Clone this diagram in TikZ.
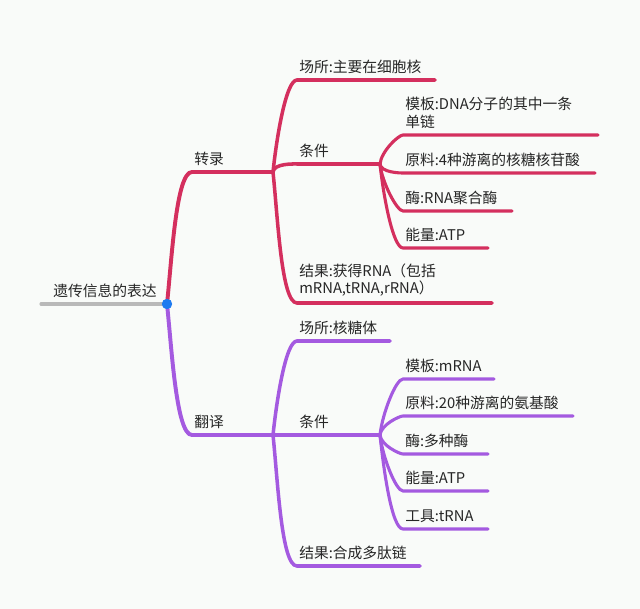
\documentclass[tikz,border=0pt]{standalone}
\usepackage{fontspec}
\newfontfamily\cjk{Noto Sans CJK SC}
\usepackage{xcolor}
\usetikzlibrary{positioning}
\definecolor{zhuanred}{RGB}{212,47,94}
\definecolor{fanpurple}{RGB}{164,90,224}
\definecolor{rootgray}{RGB}{185,185,185}
\definecolor{dotblue}{RGB}{30,123,240}
\definecolor{paper}{RGB}{249,251,249}

\tikzset{
  topic/.style={anchor=south west, inner sep=0pt, xshift=0.05cm, yshift=0.15cm, align=left,
    font=\cjk\fontsize{10.5}{12.6}\selectfont, text=black!85},
  limb/.style={line width=2.8pt, line cap=round},
  bough/.style={line width=2.5pt, line cap=round},
  twig/.style={line width=2.2pt, line cap=round},
  rise/.style={out=84, in=180, out looseness=0.9, in looseness=0.3},
  sink/.style={out=-84, in=180, out looseness=0.9, in looseness=0.3}
}

\begin{document}
\begin{tikzpicture}[x=0.025cm, y=-0.025cm]
\fill[paper] (0,0) rectangle (640,609);

% root
\coordinate (root) at (167,304);
\coordinate (rootend) at (41,304);
\draw[rootgray, line width=2.2pt, line cap=round] (rootend) -- (root);
\node[topic] (roottext) at (rootend) [xshift=0.25cm] {遗传信息的表达};

% 转录
\coordinate (zl) at (192,172);
\coordinate (zlhub) at (273,172);
\draw[zhuanred, limb] (root) to[rise] (zl) -- (zlhub);
\node[topic] (zltext) at (zl) {转录};

\coordinate (zlplace) at (297,80);    \coordinate (zlplaceend) at (435,80);
\coordinate (zlcond) at (297,164);    \coordinate (zlcondhub) at (380,164);
\coordinate (zlresult) at (297,303);  \coordinate (zlresultend) at (492,303);
\draw[zhuanred, bough] (zlhub) to[rise] (zlplace) -- (zlplaceend);
\draw[zhuanred, bough] (zlhub) to[rise] (zlcond) -- (zlcondhub);
\draw[zhuanred, bough] (zlhub) to[sink] (zlresult) -- (zlresultend);
\node[topic] (zlplacetext) at (zlplace) {场所:主要在细胞核};
\node[topic] (zlcondtext) at (zlcond) {条件};
\node[topic] (zlresulttext) at (zlresult) {结果:获得RNA（包括\\mRNA,tRNA,rRNA）};

\coordinate (zlmold) at (403,135);    \coordinate (zlmoldend) at (598,135);
\coordinate (zlraw) at (403,173);     \coordinate (zlrawend) at (595,173);
\coordinate (zlenz) at (403,211);     \coordinate (zlenzend) at (512,211);
\coordinate (zlatp) at (403,248);     \coordinate (zlatpend) at (488,248);
\draw[zhuanred, twig] (zlcondhub) to[rise] (zlmold) -- (zlmoldend);
\draw[zhuanred, twig] (zlcondhub) to[sink] (zlraw) -- (zlrawend);
\draw[zhuanred, twig] (zlcondhub) to[sink] (zlenz) -- (zlenzend);
\draw[zhuanred, twig] (zlcondhub) to[sink] (zlatp) -- (zlatpend);
\node[topic] (zlmoldtext) at (zlmold) {模板:DNA分子的其中一条\\单链};
\node[topic] (zlrawtext) at (zlraw) {原料:4种游离的核糖核苷酸};
\node[topic] (zlenztext) at (zlenz) {酶:RNA聚合酶};
\node[topic] (zlatptext) at (zlatp) {能量:ATP};

% 翻译
\coordinate (fy) at (192,435);
\coordinate (fyhub) at (273,435);
\draw[fanpurple, limb] (root) to[sink] (fy) -- (fyhub);
\node[topic] (fytext) at (fy) {翻译};

\coordinate (fyplace) at (297,341);   \coordinate (fyplaceend) at (390,341);
\coordinate (fycond) at (297,435);    \coordinate (fycondhub) at (380,435);
\coordinate (fyresult) at (297,566);  \coordinate (fyresultend) at (420,566);
\draw[fanpurple, bough] (fyhub) to[rise] (fyplace) -- (fyplaceend);
\draw[fanpurple, bough] (fyhub) -- (fycond) -- (fycondhub);
\draw[fanpurple, bough] (fyhub) to[sink] (fyresult) -- (fyresultend);
\node[topic] (fyplacetext) at (fyplace) {场所:核糖体};
\node[topic] (fycondtext) at (fycond) {条件};
\node[topic] (fyresulttext) at (fyresult) {结果:合成多肽链};

\coordinate (fymold) at (403,379);    \coordinate (fymoldend) at (494,379);
\coordinate (fyraw) at (403,416);     \coordinate (fyrawend) at (573,416);
\coordinate (fyenz) at (403,454);     \coordinate (fyenzend) at (488,454);
\coordinate (fyatp) at (403,491);     \coordinate (fyatpend) at (488,491);
\coordinate (fytool) at (403,529);    \coordinate (fytoolend) at (488,529);
\draw[fanpurple, twig] (fycondhub) to[rise] (fymold) -- (fymoldend);
\draw[fanpurple, twig] (fycondhub) to[rise] (fyraw) -- (fyrawend);
\draw[fanpurple, twig] (fycondhub) to[sink] (fyenz) -- (fyenzend);
\draw[fanpurple, twig] (fycondhub) to[sink] (fyatp) -- (fyatpend);
\draw[fanpurple, twig] (fycondhub) to[sink] (fytool) -- (fytoolend);
\node[topic] (fymoldtext) at (fymold) {模板:mRNA};
\node[topic] (fyrawtext) at (fyraw) {原料:20种游离的氨基酸};
\node[topic] (fyenztext) at (fyenz) {酶:多种酶};
\node[topic] (fyatptext) at (fyatp) {能量:ATP};
\node[topic] (fytooltext) at (fytool) {工具:tRNA};

\fill[dotblue] (root) circle (0.13cm);
\end{tikzpicture}
\end{document}
